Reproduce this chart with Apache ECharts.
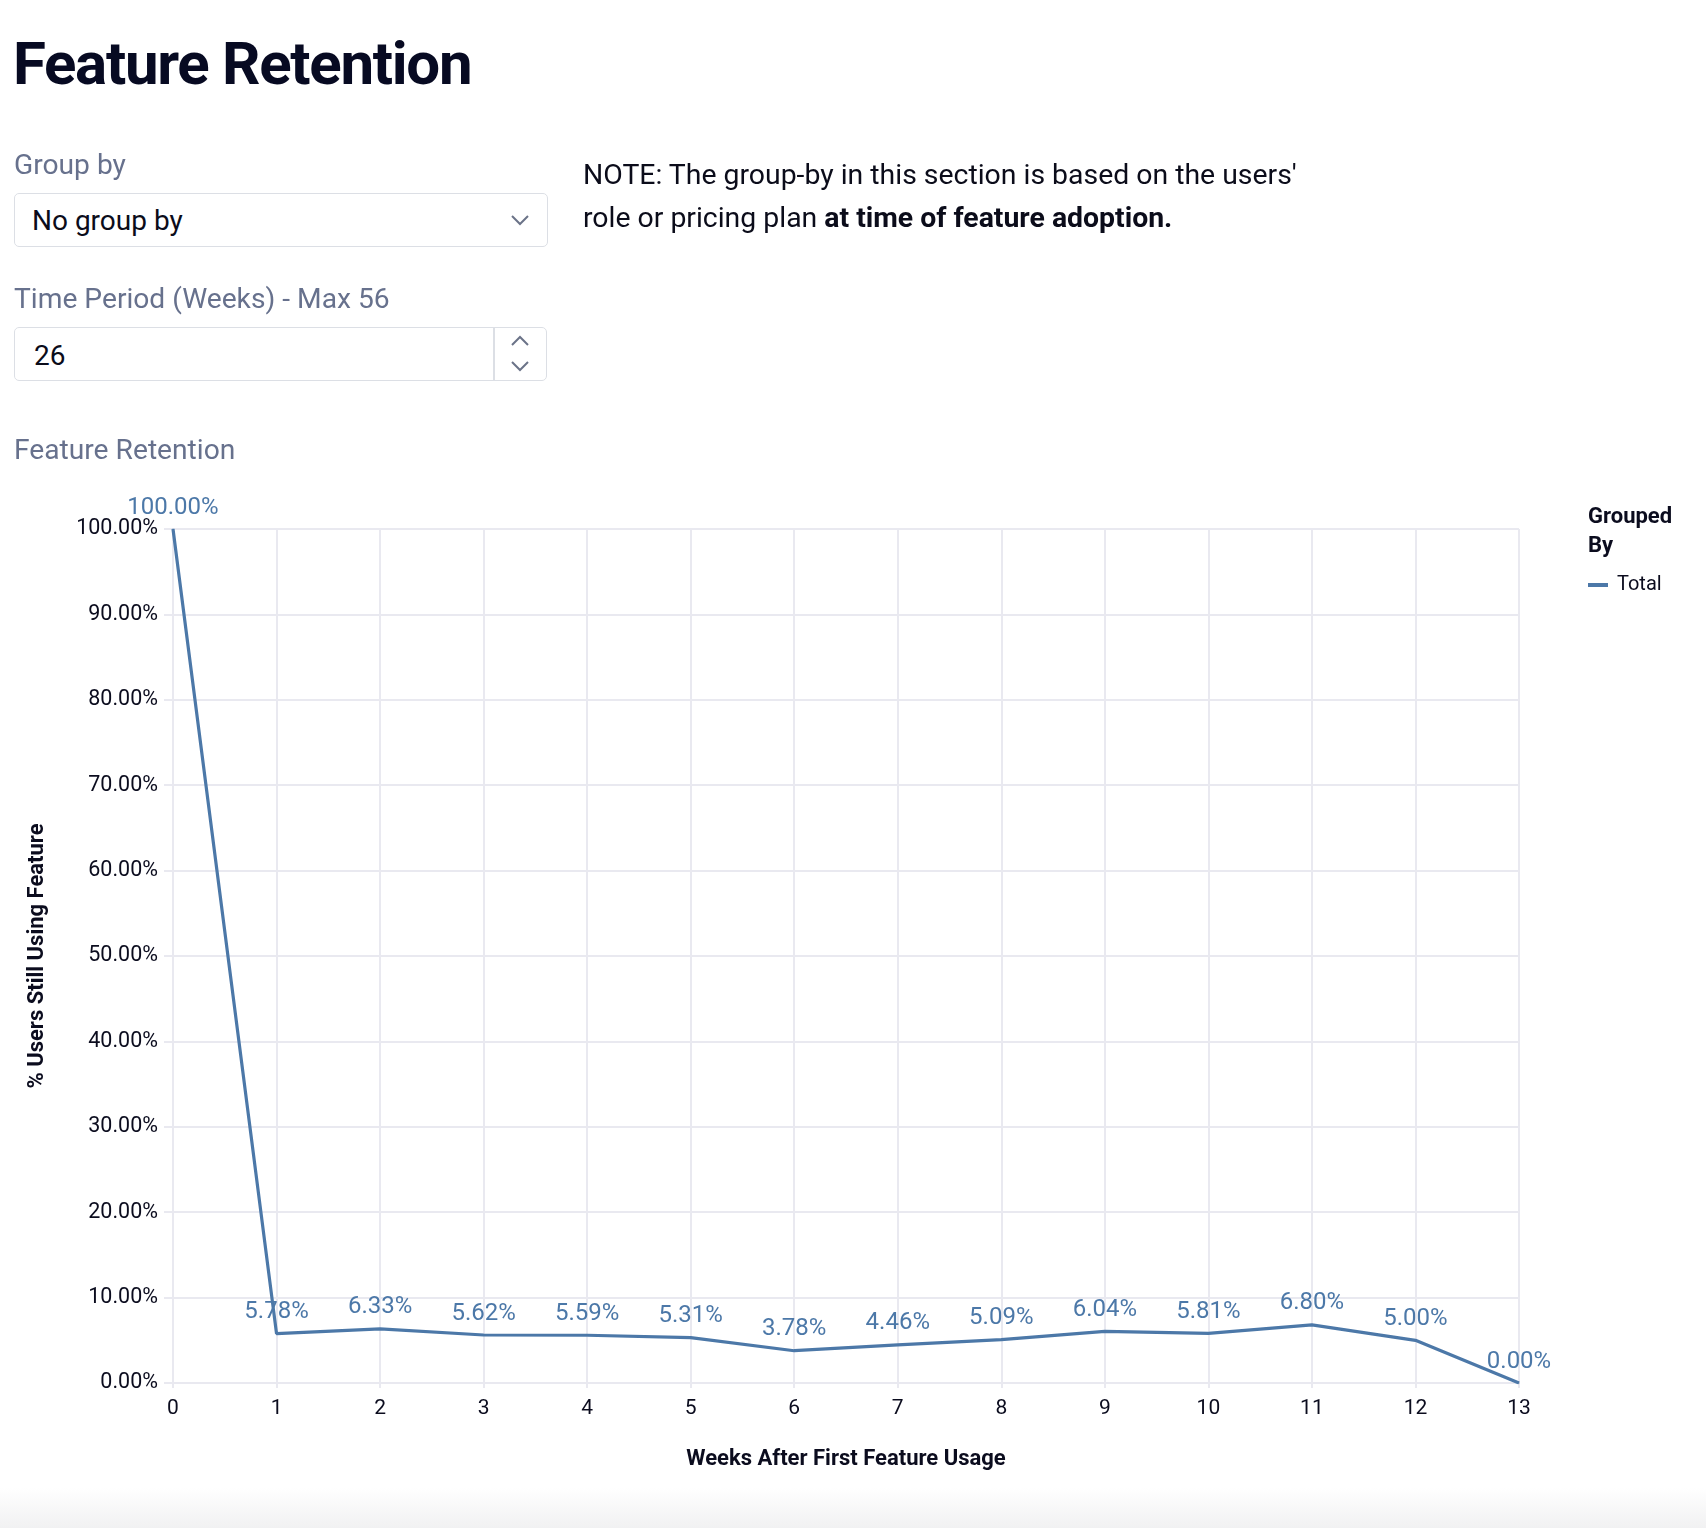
<!DOCTYPE html>
<html>
<head>
<meta charset="utf-8">
<script src="https://cdn.jsdelivr.net/npm/echarts@6/dist/echarts.min.js"></script>
<style>
html,body{margin:0;padding:0;background:#fff;}
body{width:1706px;height:1528px;position:relative;overflow:hidden;font-family:Roboto,"Noto Sans",sans-serif;}
#chart{position:absolute;left:0;top:0;width:1706px;height:1528px;}
.abs{position:absolute;white-space:nowrap;line-height:1;}
#title{left:13px;top:34px;font-size:60px;font-weight:700;color:#070a22;letter-spacing:-1.3px;}
.lbl{font-size:28.2px;color:#67718d;}
.val{font-size:28px;color:#0b0c1a;}
.note{left:583px;font-size:28.4px;color:#0b0c1a;}
.box{position:absolute;border:1.5px solid #dcdfe5;border-radius:5px;box-sizing:border-box;background:#fff;}
#fade{position:absolute;left:0;top:1488px;width:1706px;height:40px;background:linear-gradient(#ffffff,#f1f1f2);}
svg.ov{position:absolute;left:0;top:0;}
</style>
</head>
<body>
<div id="fade"></div>
<div id="chart"></div>
<div class="abs" id="title">Feature Retention</div>
<div class="abs lbl" style="left:14px;top:151px;">Group by</div>
<div class="box" style="left:14px;top:193px;width:534px;height:54px;"></div>
<div class="abs val" style="left:32px;top:207px;">No group by</div>
<div class="abs lbl" style="left:14px;top:285px;">Time Period (Weeks) - Max 56</div>
<div class="box" style="left:14px;top:327px;width:533px;height:54px;"></div>
<div style="position:absolute;left:493px;top:328px;width:1.5px;height:52px;background:#dcdfe5;"></div>
<div class="abs val" style="left:34px;top:342px;">26</div>
<div class="abs lbl" style="left:14px;top:436px;">Feature Retention</div>
<div class="abs note" style="top:161px;">NOTE: The group-by in this section is based on the users'</div>
<div class="abs note" style="top:204px;">role or pricing plan <b>at time of feature adoption.</b></div>
<svg class="ov" width="1706" height="400">
  <polyline points="512,216 520,224 528,216" fill="none" stroke="#6b7388" stroke-width="2"/>
  <polyline points="512,345 520,337 528,345" fill="none" stroke="#6b7388" stroke-width="2"/>
  <polyline points="512,362 520,370 528,362" fill="none" stroke="#6b7388" stroke-width="2"/>
</svg>
<script>
// ---- data ----
var weeks = [0, 1, 2, 3, 4, 5, 6, 7, 8, 9, 10, 11, 12, 13];
var retention = [100.00, 5.78, 6.33, 5.62, 5.59, 5.31, 3.78, 4.46, 5.09, 6.04, 5.81, 6.80, 5.00, 0.00];
var seriesName = 'Total';
var legendTitle = 'Grouped\nBy';
var xTitle = 'Weeks After First Feature Usage';
var yTitle = '% Users Still Using Feature';

var lineColor = '#4c78a8';
var gridColor = '#e9e9f0';
var textColor = '#0b0c1e';
var font = 'Roboto, "Noto Sans", sans-serif';

var chart = echarts.init(document.getElementById('chart'), null, {renderer: 'canvas'});
var points = weeks.map(function (w, i) { return [w, retention[i]]; });

chart.setOption({
  animation: false,
  textStyle: {fontFamily: font},
  grid: {left: 173, right: 187, top: 529, bottom: 145, outerBoundsMode: 'none'},
  legend: {
    left: 1588, top: 575, orient: 'vertical', padding: 0,
    icon: 'rect', itemWidth: 20, itemHeight: 4,
    textStyle: {fontSize: 20, color: textColor, fontFamily: font, padding: [0, 0, 0, 4]},
    data: [seriesName]
  },
  graphic: [{
    type: 'text', left: 1588, top: 503,
    style: {text: legendTitle, fontSize: 22, fontWeight: 'bold', fill: textColor, fontFamily: font, lineHeight: 29}
  }],
  xAxis: {
    type: 'value', min: 0, max: 13, interval: 1,
    name: xTitle, nameLocation: 'middle', nameGap: 65,
    nameTextStyle: {fontSize: 22, fontWeight: 'bold', color: textColor},
    axisLine: {show: false},
    axisTick: {show: true, length: 5, lineStyle: {color: gridColor, width: 2}},
    axisLabel: {fontSize: 21, color: textColor, margin: 15},
    splitLine: {show: true, lineStyle: {color: gridColor, width: 2}}
  },
  yAxis: {
    type: 'value', min: 0, max: 100, interval: 10,
    name: yTitle, nameLocation: 'middle', nameGap: 125,
    nameTextStyle: {fontSize: 22, fontWeight: 'bold', color: textColor},
    axisLine: {show: false},
    axisTick: {show: true, length: 9, lineStyle: {color: gridColor, width: 2}},
    axisLabel: {fontSize: 21.5, color: textColor, margin: 15,
      formatter: function (v) { return v.toFixed(2) + '%'; }},
    splitLine: {show: true, lineStyle: {color: gridColor, width: 2}}
  },
  series: [{
    name: seriesName, type: 'line', data: points,
    symbol: 'circle', symbolSize: 1, showSymbol: true,
    itemStyle: {color: lineColor},
    lineStyle: {color: lineColor, width: 3.2},
    label: {show: true, position: 'top', distance: 9, fontSize: 24, color: lineColor,
      formatter: function (p) { return p.value[1].toFixed(2) + '%'; }},
    emphasis: {disabled: true}
  }]
});
</script>
</body>
</html>
